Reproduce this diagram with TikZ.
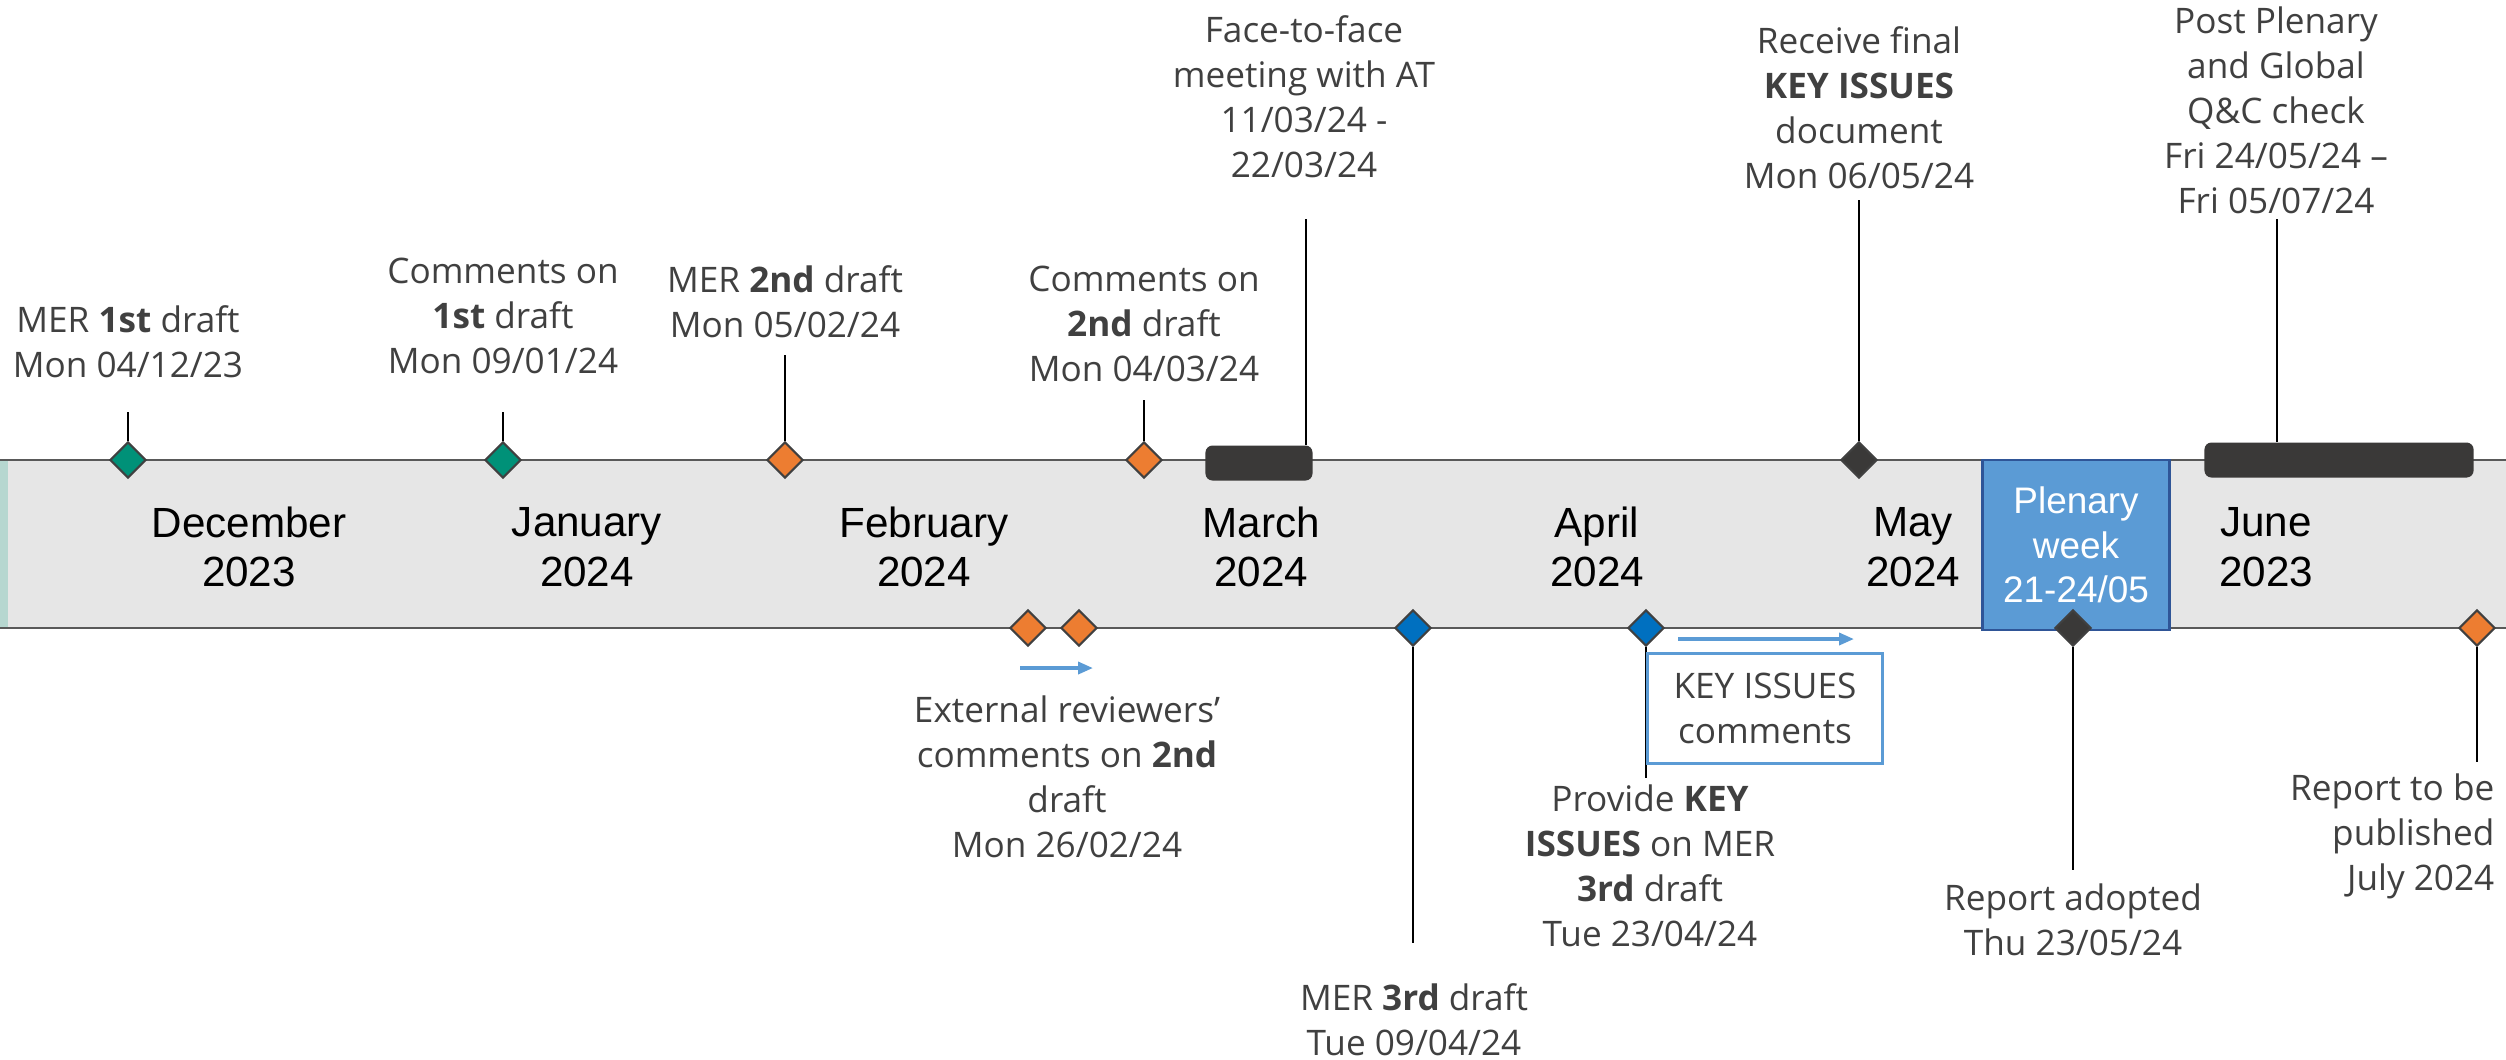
\documentclass[tikz,border=0pt]{standalone}
\usepackage{fontspec}
\setmainfont{Open Sans}
\newfontfamily\arialfont{Liberation Sans}
\usetikzlibrary{positioning}
\usetikzlibrary{shapes.geometric,arrows.meta}
\definecolor{tealms}{RGB}{0,145,120}
\definecolor{orangems}{RGB}{237,125,49}
\definecolor{bluems}{RGB}{0,112,192}
\definecolor{darkms}{RGB}{58,57,56}
\definecolor{bandgray}{RGB}{230,230,230}
\definecolor{edgegray}{RGB}{89,89,89}
\definecolor{stripteal}{RGB}{182,215,208}
\definecolor{labgray}{RGB}{64,64,64}
\definecolor{plenblue}{RGB}{91,155,213}
\definecolor{plenedge}{RGB}{47,85,151}

\begin{document}
\begin{tikzpicture}[x=0.01cm,y=-0.01cm,
        ms/.style={diamond,draw=labgray,line width=0.6pt,inner sep=0pt,
            minimum width=0.36cm,minimum height=0.36cm,fill=#1},
        lab/.style={font=\fontsize{10}{12.8}\selectfont,text=labgray,align=center,inner sep=0pt},
        month/.style={font=\arialfont\fontsize{12}{14.1}\selectfont,align=center,inner sep=0pt},
        stem/.style={line width=0.6pt},
        bar/.style={fill=darkms,rounded corners=2pt,inner sep=0pt,minimum height=0.35cm},
        flow/.style={plenblue,line width=1pt,-{Triangle[length=1.5mm,width=1.2mm]}}]
    \useasboundingbox (0,0) rectangle (2506,1059);

    % time band
    \fill[bandgray] (0,460) rectangle (2506,628);
    \fill[stripteal] (0,460) rectangle (8,628);
    \draw[edgegray,line width=0.7pt] (0,460) -- (2506,460) (0,628) -- (2506,628);

    % months
    \node[month] (dec) at (249,547) {December\\2023};
    \node[month] (jan) at (587,547) {January\\2024};
    \node[month] (feb) at (924,547) {February\\2024};
    \node[month] (mar) at (1261,547) {March\\2024};
    \node[month] (apr) at (1597,547) {April\\2024};
    \node[month] (may) at (1913,547) {May\\2024};
    \node[month] (jun) at (2266,547) {June\\2023};

    \node[draw=plenedge,fill=plenblue,line width=0.8pt,minimum width=1.87cm,minimum height=1.70cm,
        inner sep=0pt,text=white,align=center,font=\arialfont\fontsize{10.5}{12.7}\selectfont]
        (plen) at (2076,545) {Plenary\\week\\21-24/05};

    % bars
    \node[bar,minimum width=1.07cm] (f2f) at (1259,463) {};
    \node[bar,minimum width=2.69cm] (post) at (2339,460) {};

    % milestones above
    \node[ms=tealms] (m1) at (128,460) {};
    \node[ms=tealms] (c1) at (503,460) {};
    \node[ms=orangems] (m2) at (785,460) {};
    \node[ms=orangems] (c2) at (1144,460) {};
    \node[ms=darkms] (ki) at (1859,460) {};

    \coordinate (tm1) at (128,412);
    \coordinate (tc1) at (503,412);
    \coordinate (tm2) at (785,355);
    \coordinate (tc2) at (1144,400);
    \coordinate (tki) at (1859,200);
    \coordinate (tf2f) at (1306,219);
    \coordinate (tpost) at (2277,219);
    \draw[stem] (m1.north) -- (tm1);
    \draw[stem] (c1.north) -- (tc1);
    \draw[stem] (m2.north) -- (tm2);
    \draw[stem] (c2.north) -- (tc2);
    \draw[stem] (ki.north) -- (tki);
    \draw[stem] (f2f.north -| tf2f) -- (tf2f);
    \draw[stem] (post.north -| tpost) -- (tpost);

    \node[lab] (lm1) at (128,342) {MER \textbf{1st} draft\\Mon 04/12/23};
    \node[lab] (lc1) at (503,316) {Comments on\\\textbf{1st} draft\\Mon 09/01/24};
    \node[lab] (lm2) at (785,302) {MER \textbf{2nd} draft\\Mon 05/02/24};
    \node[lab] (lc2) at (1144,324) {Comments on\\\textbf{2nd} draft\\Mon 04/03/24};
    \node[lab] (lf2f) at (1304,97) {Face-to-face\\meeting with AT\\11/03/24 -\\22/03/24};
    \node[lab] (lki) at (1859,108) {Receive final\\\textbf{KEY ISSUES}\\document\\Mon 06/05/24};
    \node[lab] (lpost) at (2276,110) {Post Plenary\\and Global\\Q\&C check\\Fri 24/05/24 --\\Fri 05/07/24};

    % milestones below
    \node[ms=orangems] (e1) at (1028,628) {};
    \node[ms=orangems] (e2) at (1079,628) {};
    \node[ms=bluems] (m3) at (1413,628) {};
    \node[ms=bluems] (pk) at (1646,628) {};
    \node[ms=darkms] (ad) at (2073,628) {};
    \node[ms=orangems] (pub) at (2477,628) {};

    \coordinate (bm3) at (1413,943);
    \coordinate (bpk) at (1646,778);
    \coordinate (bad) at (2073,870);
    \coordinate (bpub) at (2477,762);
    \draw[stem] (m3.south) -- (bm3);
    \draw[stem] (pk.south) -- (bpk);
    \draw[stem] (ad.south) -- (bad);
    \draw[stem] (pub.south) -- (bpub);

    \node[draw=plenblue,line width=0.8pt,fill=white,minimum width=2.35cm,minimum height=1.10cm,
        anchor=north west,lab] (kic) at (1646,652) {KEY ISSUES\\comments};

    \coordinate (a1) at (1020,668);
    \coordinate (a2) at (1093,668);
    \coordinate (a3) at (1678,639);
    \coordinate (a4) at (1854,639);
    \draw[flow] (a1) -- (a2);
    \draw[flow] (a3) -- (a4);

    \node[lab] (le) at (1067,777) {External reviewers'\\comments on \textbf{2nd}\\draft\\Mon 26/02/24};
    \node[lab] (lm3) at (1414,1020) {MER \textbf{3rd} draft\\Tue 09/04/24};
    \node[lab] (lpk) at (1650,866) {Provide \textbf{KEY}\\\textbf{ISSUES} on MER\\\textbf{3rd} draft\\Tue 23/04/24};
    \node[lab] (lad) at (2073,920) {Report adopted\\Thu 23/05/24};
    \node[lab,align=right,anchor=east] (lpub) at (2495,836) {Report to be\\published\\July 2024};
\end{tikzpicture}
\end{document}
